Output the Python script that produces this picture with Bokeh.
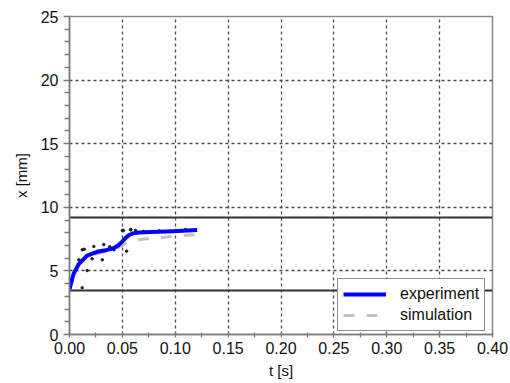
from bokeh.plotting import figure
from bokeh.models import Range1d, NumeralTickFormatter, FixedTicker, Legend, LegendItem
from bokeh.embed import file_html
from bokeh.resources import INLINE

# Measured displacement (smoothed) and raw samples
exp_t = [0.0, 0.002, 0.004, 0.0088, 0.0167, 0.026, 0.0356, 0.042, 0.046,
         0.0498, 0.053, 0.056, 0.060, 0.0656, 0.0766, 0.0986, 0.1207]
exp_x = [3.55, 4.2, 4.8, 5.55, 6.2, 6.5, 6.65, 6.8, 7.0,
         7.3, 7.58, 7.8, 7.95, 8.02, 8.05, 8.12, 8.22]

sim_t = [0.0, 0.005, 0.01, 0.02, 0.03, 0.04, 0.05, 0.055, 0.06, 0.07, 0.08,
         0.09, 0.10, 0.11, 0.12]
sim_x = [3.5, 4.8, 5.6, 6.2, 6.45, 6.6, 7.0, 7.2, 7.35, 7.5, 7.55,
         7.65, 7.75, 7.8, 7.85]

raw_t = [0.012, 0.023, 0.0324, 0.0214, 0.031, 0.042, 0.05, 0.058, 0.0167,
         0.012, 0.054, 0.051, 0.0577, 0.0624, 0.1097, 0.085, 0.095, 0.0088,
         0.038, 0.046, 0.07, 0.014]
raw_x = [6.66, 6.92, 7.07, 5.95, 5.87, 6.66, 8.18, 8.23, 5.03,
         3.67, 6.55, 8.18, 8.25, 8.18, 8.25, 8.15, 8.1, 5.87,
         6.9, 7.0, 8.1, 6.7]

# Horizontal limit levels [mm]
limit_levels = [3.46, 9.22]

x_ticks = [0.0, 0.05, 0.10, 0.15, 0.20, 0.25, 0.30, 0.35, 0.40]
y_ticks = [0, 5, 10, 15, 20, 25]

p = figure(width=510, height=383, output_backend="svg", toolbar_location=None,
           x_range=Range1d(0, 0.40), y_range=Range1d(0, 25),
           min_border_left=69, min_border_right=18, min_border_top=16,
           min_border_bottom=49)
p.background_fill_color = "white"
p.border_fill_color = "white"
p.outline_line_color = "#8a8a8a"
p.outline_line_width = 1.5

# grid
for g in (p.xgrid, p.ygrid):
    g.grid_line_color = "#4a4a4a"
    g.grid_line_dash = "3 3"
    g.grid_line_width = 1.3
p.xgrid.ticker = FixedTicker(ticks=x_ticks)
p.ygrid.ticker = FixedTicker(ticks=y_ticks)

# axes
xa = p.xaxis[0]
ya = p.yaxis[0]
xa.ticker = FixedTicker(ticks=x_ticks,
                        minor_ticks=[0.025 + 0.05 * i for i in range(8)])
ya.ticker = FixedTicker(ticks=y_ticks,
                        minor_ticks=[v for v in range(26) if v % 5])
xa.formatter = NumeralTickFormatter(format="0.00")
for ax in (xa, ya):
    ax.axis_line_color = "#7a7a7a"
    ax.axis_line_width = 1.5
    ax.major_tick_line_color = "#7a7a7a"
    ax.minor_tick_line_color = "#7a7a7a"
    ax.major_tick_line_width = 1.3
    ax.minor_tick_line_width = 1.3
    ax.major_label_text_font = "Liberation Sans"
    ax.major_label_text_font_size = "16px"
    ax.major_label_text_color = "#111111"
    ax.axis_label_text_font = "Liberation Sans"
    ax.axis_label_text_font_size = "15px"
    ax.axis_label_text_font_style = "normal"
    ax.axis_label_text_color = "#111111"
xa.major_tick_in = 3
xa.major_tick_out = 3
xa.minor_tick_in = 2
xa.minor_tick_out = 3
xa.major_label_standoff = 4
xa.axis_label = "t [s]"
xa.axis_label_standoff = 5
ya.major_tick_in = 0
ya.major_tick_out = 6
ya.minor_tick_in = 0
ya.minor_tick_out = 5
ya.major_label_standoff = 5
ya.axis_label = "x [mm]"
ya.axis_label_standoff = 8

# limit lines
p.hspan(y=limit_levels, line_color="#333333", line_width=2)

# raw samples
p.scatter(raw_t, raw_x, size=2.5, color="#222222", marker="circle")

sim = p.line(sim_t, sim_x, line_color="#c4c4c4", line_width=3, line_dash="11 12")
exp = p.line(exp_t, exp_x, line_color="#0000ff", line_width=4, line_join="round")

legend = Legend(items=[LegendItem(label="experiment", renderers=[exp]),
                       LegendItem(label="simulation", renderers=[sim])],
                location=(268, 3))
legend.label_text_font = "Liberation Sans"
legend.label_text_font_size = "16px"
legend.label_text_color = "#111111"
legend.glyph_width = 43
legend.glyph_height = 20
legend.label_standoff = 14
legend.padding = 5
legend.spacing = 1
legend.margin = 0
legend.border_line_color = "#222222"
legend.border_line_width = 1
legend.background_fill_color = "white"
legend.background_fill_alpha = 1
p.add_layout(legend)

open("out.html", "w").write(file_html(p, INLINE))
